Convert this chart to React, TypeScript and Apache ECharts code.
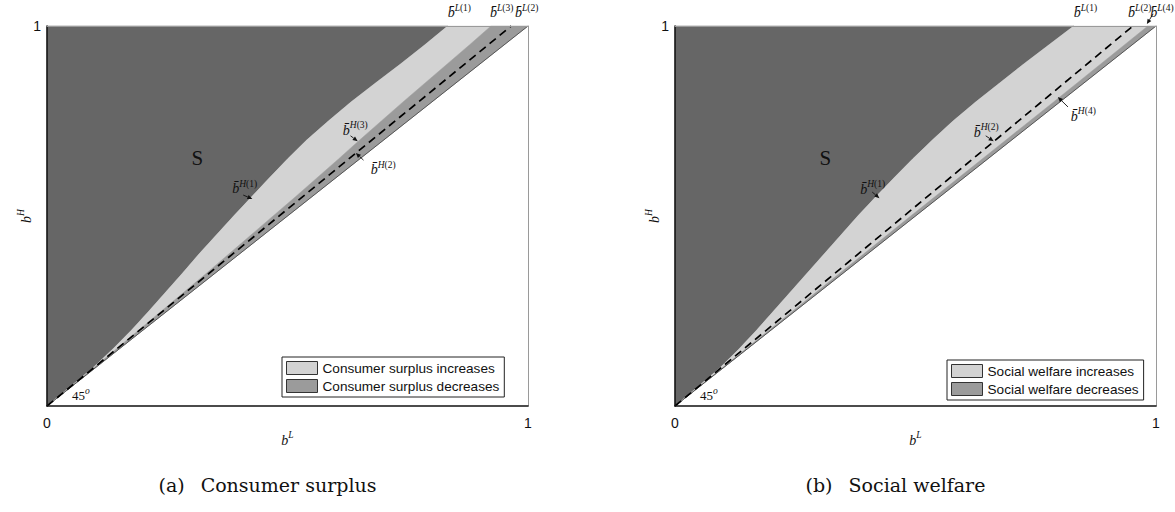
import React, { useEffect, useRef } from 'react';
import * as echarts from 'echarts';

const SERIF = '"Liberation Serif", "DejaVu Serif", serif';
const CAPTION_FONT = '"DejaVu Serif", "Liberation Serif", serif';
const SANS = '"Liberation Sans", Arial, Helvetica, sans-serif';

const DARK = '#666666';
const LIGHT = '#d3d3d3';
const MEDIUM = '#9b9b9b';

// b^H levels (y) at which boundaries are read
const bHLevels = [0, 0.05, 0.1, 0.15, 0.2, 0.25, 0.3, 0.35, 0.4, 0.45, 0.5, 0.55, 0.6, 0.65, 0.7, 0.75, 0.8, 0.85, 0.9, 0.95, 1.0];
// panel (a): b^L of the S-region boundary and gap of the "decreases" band from the diagonal
const sBoundaryA = [0, 0.048, 0.095, 0.137, 0.176, 0.212, 0.247, 0.282, 0.316, 0.352, 0.388, 0.425, 0.462, 0.5, 0.54, 0.585, 0.632, 0.683, 0.735, 0.785, 0.833];
const bandGapA = [0, 0.002, 0.004, 0.006, 0.009, 0.012, 0.015, 0.018, 0.022, 0.026, 0.03, 0.034, 0.039, 0.044, 0.05, 0.055, 0.06, 0.064, 0.068, 0.072, 0.077];
// panel (b)
const sBoundaryB = [0, 0.047, 0.093, 0.133, 0.17, 0.205, 0.24, 0.275, 0.31, 0.345, 0.38, 0.417, 0.455, 0.494, 0.535, 0.578, 0.625, 0.675, 0.725, 0.777, 0.829];
const bandGapB = [0, 0.001, 0.002, 0.003, 0.004, 0.005, 0.006, 0.007, 0.008, 0.009, 0.01, 0.0105, 0.011, 0.0115, 0.012, 0.0125, 0.013, 0.014, 0.015, 0.016, 0.017];
// dashed line end at top (b^L where b^H = 1)
const dashTopA = 0.965;
const dashTopB = 0.952;

const namesA = ['Consumer surplus increases', 'Consumer surplus decreases'];
const namesB = ['Social welfare increases', 'Social welfare decreases'];
const captionA = ['(a)', 'Consumer surplus'];
const captionB = ['(b)', 'Social welfare'];
const tickValues = [0, 1];

// annotations: [letter, index, bL, bH]
const topLabelY = 1.039;
const topLabelsA = [['L', '1', 0.833], ['L', '3', 0.921], ['L', '2', 0.973]];
const topLabelsB = [['L', '1', 0.829], ['L', '2', 0.942], ['L', '4', 0.988]];
const innerLabelsA = [['H', '1', 0.385, 0.576], ['H', '3', 0.615, 0.729], ['H', '2', 0.673, 0.626]];
const innerLabelsB = [['H', '1', 0.385, 0.574], ['H', '2', 0.621, 0.724], ['H', '4', 0.823, 0.766]];
const arrowsA = [[0.408, 0.555, 0.427, 0.545], [0.631, 0.711, 0.646, 0.697], [0.658, 0.647, 0.642, 0.666]];
const arrowsB = [[0.41, 0.563, 0.425, 0.547], [0.646, 0.711, 0.6625, 0.697], [0.817, 0.787, 0.796, 0.813], [0.994, 1.032, 0.981, 1.005]];
const sLabelPos = [0.3125, 0.653];
const degLabelPos = [0.052, 0.032];

function regions(sB: number[], gap: number[]) {
  const boundary = bHLevels.map((h, i) => [sB[i], h]);
  const upper = bHLevels.map((h, i) => [h - gap[i], h]);
  const dark = [[0, 1], ...boundary];
  const light = [...boundary, ...upper.slice().reverse()];
  const medium = [...upper, [1, 1]];
  return { dark, light, medium };
}

function polySeries(name: string, pts: number[][], color: string, axisIdx: number) {
  return {
    type: 'custom',
    name,
    xAxisIndex: axisIdx,
    yAxisIndex: axisIdx,
    data: [[pts[0][0], pts[0][1]]],
    silent: true,
    z: 2,
    itemStyle: { color },
    renderItem: (_p: any, api: any) => ({
      type: 'polygon',
      shape: { points: pts.map((p) => api.coord(p)) },
      style: { fill: color, stroke: color, lineWidth: 0.5 },
    }),
  };
}

const mathRich = {
  b: { fontFamily: SERIF, fontStyle: 'italic', fontSize: 14, fill: '#111', color: '#111', verticalAlign: 'bottom', lineHeight: 17 },
  si: { fontFamily: SERIF, fontStyle: 'italic', fontSize: 9.5, fill: '#111', color: '#111', verticalAlign: 'top' },
  s: { fontFamily: SERIF, fontSize: 9.5, fill: '#111', color: '#111', verticalAlign: 'top' },
  n: { fontFamily: SERIF, fontSize: 13, fill: '#111', color: '#111', verticalAlign: 'bottom', lineHeight: 16 },
  S: { fontFamily: SERIF, fontSize: 21, fill: '#111', color: '#111' },
};

const barLabel = (letter: string, idx: string) => `{b|b\u0304}{si|${letter}}{s|(${idx})}`;

function xAxes(grid: number) {
  return [
    {
      gridIndex: grid, type: 'value', min: tickValues[0], max: tickValues[1], interval: 1, position: 'bottom',
      axisLine: { show: true, onZero: false, lineStyle: { color: '#111', width: 1.5 } },
      axisTick: { show: false }, splitLine: { show: false },
      axisLabel: { fontFamily: SANS, fontSize: 14, color: '#111', margin: 10 },
      name: '{b|b}{si|L}', nameLocation: 'middle', nameGap: 24, nameMoveOverlap: false,
      nameTextStyle: { rich: mathRich },
      z: 10,
    },
    {
      gridIndex: grid, type: 'value', min: 0, max: 1, position: 'top',
      axisLine: { show: true, onZero: false, lineStyle: { color: '#9a9a9a', width: 1 } },
      axisTick: { show: false }, splitLine: { show: false }, axisLabel: { show: false },
      z: 10,
    },
  ];
}
function yAxes(grid: number) {
  return [
    {
      gridIndex: grid, type: 'value', min: tickValues[0], max: tickValues[1], interval: 1, position: 'left',
      axisLine: { show: true, onZero: false, lineStyle: { color: '#111', width: 1.5 } },
      axisTick: { show: false }, splitLine: { show: false },
      axisLabel: { fontFamily: SANS, fontSize: 14, color: '#111', margin: 6, formatter: (v: number) => (v === 1 ? '1' : '') },
      name: '{b|b}{si|H}', nameLocation: 'middle', nameGap: 14, nameRotate: 90, nameMoveOverlap: false,
      nameTextStyle: { rich: mathRich },
      z: 10,
    },
    {
      gridIndex: grid, type: 'value', min: 0, max: 1, position: 'right',
      axisLine: { show: true, onZero: false, lineStyle: { color: '#9a9a9a', width: 1 } },
      axisTick: { show: false }, splitLine: { show: false }, axisLabel: { show: false },
      z: 10,
    },
  ];
}

function panelSeries(names: string[], sB: number[], gap: number[], dashTop: number, axisIdx: number, tag: string) {
  const r = regions(sB, gap);
  return [
    polySeries('S ' + tag, r.dark, DARK, axisIdx),
    polySeries(names[0], r.light, LIGHT, axisIdx),
    polySeries(names[1], r.medium, MEDIUM, axisIdx),
    {
      type: 'line', name: 'diag ' + tag, xAxisIndex: axisIdx, yAxisIndex: axisIdx,
      data: [[0, 0], [1, 1]], showSymbol: false, silent: true, z: 3,
      lineStyle: { color: '#555', width: 1 },
    },
    {
      type: 'line', name: 'dash ' + tag, xAxisIndex: axisIdx, yAxisIndex: axisIdx,
      data: [[0, 0], [dashTop, 1]], showSymbol: false, silent: true, z: 4,
      lineStyle: { color: '#000', width: 1.7, type: [8, 5] },
    },
  ];
}

function legendFor(names: string[], left: number, top: number) {
  return {
    data: names, left, top, orient: 'vertical', selectedMode: false,
    icon: 'rect', itemWidth: 31, itemHeight: 13, itemGap: 4, itemTextGap: 5,
    itemStyle: { borderColor: '#333', borderWidth: 1 },
    backgroundColor: '#fff', borderColor: '#222', borderWidth: 1, padding: [4, 5, 4, 4],
    textStyle: { fontFamily: SANS, fontSize: 13.6, color: '#111' },
    z: 20,
  };
}

export default function App() {
  const ref = useRef<HTMLDivElement>(null);
  useEffect(() => {
    if (!ref.current) return;
    const chart = echarts.init(ref.current, null, { renderer: 'svg' });
    const option: any = {
      animation: false,
      backgroundColor: '#fff',
      grid: [
        { left: 47, top: 26, width: 481, height: 380, containLabel: false },
        { left: 675, top: 26, width: 481, height: 380, containLabel: false },
      ],
      xAxis: [...xAxes(0), ...xAxes(1)],
      yAxis: [...yAxes(0), ...yAxes(1)],
      legend: [legendFor(namesA, 282, 357), legendFor(namesB, 947, 360)],
      series: [
        ...panelSeries(namesA, sBoundaryA, bandGapA, dashTopA, 0, 'a'),
        ...panelSeries(namesB, sBoundaryB, bandGapB, dashTopB, 2, 'b'),
      ],
    };
    chart.setOption(option);

    const px = (g: number, p: number[]) => chart.convertToPixel({ gridIndex: g } as any, p) as number[];
    const els: any[] = [];
    const addText = (g: number, p: number[], text: string, align = 'left') => {
      const q = px(g, p);
      els.push({ type: 'text', z: 30, style: { x: q[0], y: q[1], text, rich: mathRich, textAlign: align, textVerticalAlign: 'middle' } });
    };
    const addArrow = (g: number, a: number[]) => {
      const p1 = px(g, [a[0], a[1]]);
      const p2 = px(g, [a[2], a[3]]);
      const dx = p2[0] - p1[0], dy = p2[1] - p1[1];
      const len = Math.sqrt(dx * dx + dy * dy) || 1;
      const ux = dx / len, uy = dy / len;
      const hl = 5, hw = 2.2;
      const bx = p2[0] - ux * hl, by = p2[1] - uy * hl;
      els.push({ type: 'line', z: 30, shape: { x1: p1[0], y1: p1[1], x2: bx, y2: by }, style: { stroke: '#111', lineWidth: 0.9 } });
      els.push({
        type: 'polygon', z: 30,
        shape: { points: [[p2[0], p2[1]], [bx - uy * hw, by + ux * hw], [bx + uy * hw, by - ux * hw]] },
        style: { fill: '#111' },
      });
    };
    const panels = [
      { g: 0, top: topLabelsA, inner: innerLabelsA, arrows: arrowsA },
      { g: 1, top: topLabelsB, inner: innerLabelsB, arrows: arrowsB },
    ];
    panels.forEach(({ g, top, inner, arrows }) => {
      addText(g, sLabelPos, '{S|S}', 'center');
      addText(g, degLabelPos, '{n|45}{si|o}');
      top.forEach((t: any) => addText(g, [t[2], topLabelY], barLabel(t[0], t[1])));
      inner.forEach((t: any) => addText(g, [t[2], t[3]], barLabel(t[0], t[1])));
      arrows.forEach((a) => addArrow(g, a));
    });
    const capRich = {
      p: { fontFamily: CAPTION_FONT, fontSize: 19, fill: '#111', padding: [0, 16, 0, 0] },
      t: { fontFamily: CAPTION_FONT, fontSize: 19, fill: '#111' },
    };
    [[captionA, 0], [captionB, 1]].forEach(([cap, g]: any) => {
      const l = px(g, [0, 0]);
      const r = px(g, [1, 0]);
      els.push({
        type: 'text', z: 30,
        style: { x: (l[0] + r[0]) / 2 - 20, y: 485, text: `{p|${cap[0]}}{t|${cap[1]}}`, rich: capRich, textAlign: 'center', textVerticalAlign: 'middle' },
      });
    });
    chart.setOption({ graphic: els });
    return () => chart.dispose();
  }, []);
  return <div ref={ref} style={{ position: 'fixed', left: 0, top: 0, width: 1175, height: 512, background: '#fff' }} />;
}
